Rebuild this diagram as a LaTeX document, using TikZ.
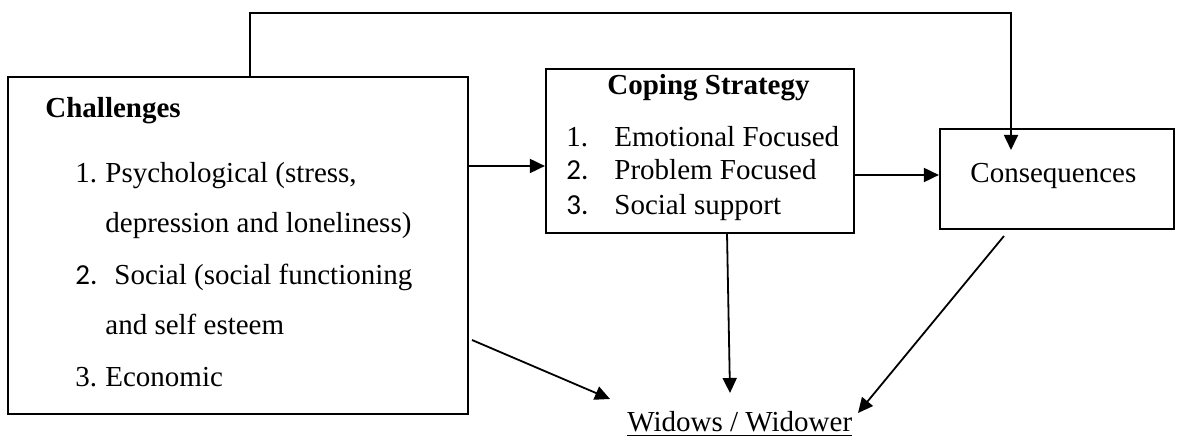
\documentclass[tikz,border=0pt]{standalone}
\usepackage{fontspec}
\setmainfont{Liberation Serif}
\newfontfamily\calibri{Carlito}
\usetikzlibrary{arrows.meta}
\tikzset{
  box/.style={draw, line width=1.1pt, inner sep=0pt},
  txt/.style={anchor=base west, inner sep=0pt, font=\fontsize{14.5}{17}\selectfont},
  arr/.style={line width=0.9pt, -{Triangle[length=7.5pt,width=7pt]}},
  ln/.style={line width=0.9pt}
}
\begin{document}
\begin{tikzpicture}[x=0.5pt,y=-0.5pt]
\useasboundingbox (0,0) rectangle (1177,437);
% boxes
\node[box, minimum width=230pt, minimum height=168.5pt] (ch) at (238,245.5) {};
\node[box, minimum width=154pt, minimum height=82pt] (cop) at (700,151) {};
\node[box, minimum width=117pt, minimum height=50pt] (con) at (1057,179) {};
% challenges text
\node[txt, font=\fontsize{14.5}{17}\selectfont\bfseries] (chT) at (45,118) {Challenges};
\node[txt] (ch1n) at (75,183) {1.};
\node[txt] (ch1) at (105,183) {Psychological (stress,};
\node[txt] (ch1b) at (105,233) {depression and loneliness)};
\node[txt] (ch2n) at (75,285) {\calibri 2.};
\node[txt] (ch2) at (114,285) {Social (social functioning};
\node[txt] (ch2b) at (105,335) {and self esteem};
\node[txt] (ch3n) at (75,387) {3.};
\node[txt] (ch3) at (105,387) {Economic};
% coping text
\node[txt, font=\fontsize{14.5}{17}\selectfont\bfseries] (copT) at (607,95) {Coping Strategy};
\node[txt] (cop1n) at (566,147) {1.};
\node[txt] (cop1) at (614,147) {Emotional Focused};
\node[txt] (cop2n) at (566,180) {\calibri 2.};
\node[txt] (cop2) at (614,180) {Problem Focused};
\node[txt] (cop3n) at (566,215) {\calibri 3.};
\node[txt] (cop3) at (614,215) {Social support};
% consequences text
\node[txt] (conT) at (970,183) {Consequences};
% widows
\node[txt] (wid) at (627,432) {\underline{Widows / Widower}};
% connector ends
\coordinate (fbA) at (250,13);
\coordinate (fbB) at (1011,13);
\coordinate (fbEnd) at (1011,150);
\coordinate (cwS) at (472,340);
\coordinate (cwE) at (610,399);
\coordinate (pwS) at (727,233);
\coordinate (pwE) at (730,393);
\coordinate (qwS) at (1004,236);
\coordinate (qwE) at (858,413);
% connectors
\draw[arr] (ch.east |- 0,166) -- (cop.west |- 0,166);
\draw[arr] (cop.east |- 0,175) -- (con.west |- 0,175);
\draw[arr] (ch.north -| fbA) -- (fbA) -- (fbB) -- (fbEnd);
\draw[arr] (cwS) -- (cwE);
\draw[arr] (pwS) -- (pwE);
\draw[arr] (qwS) -- (qwE);
\end{tikzpicture}
\end{document}
